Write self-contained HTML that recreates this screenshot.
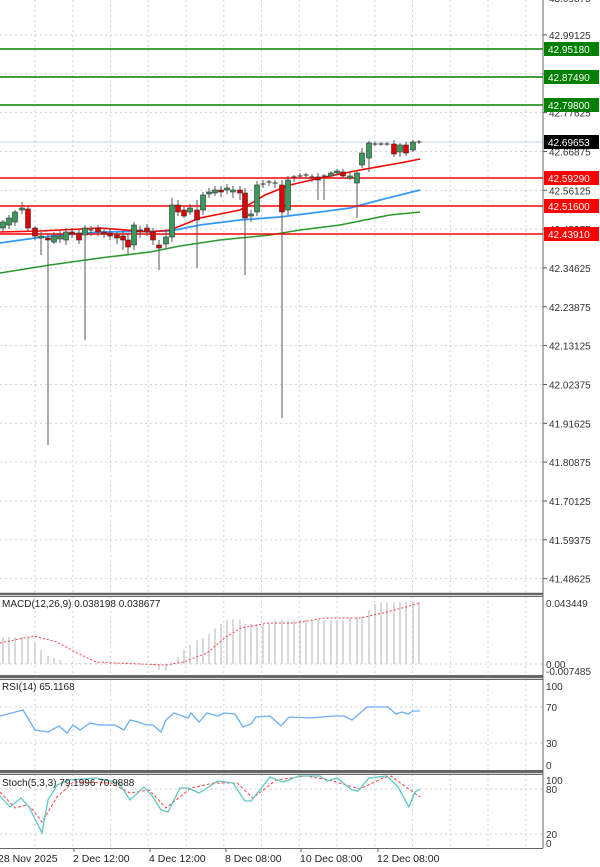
<!DOCTYPE html>
<html><head><meta charset="utf-8"><style>
html,body{margin:0;padding:0;background:#fff;}
svg{display:block;font-family:"Liberation Sans",sans-serif;}
</style></head><body>
<svg id="s" width="600" height="867" xmlns="http://www.w3.org/2000/svg"></svg>
<script>
const s=document.getElementById('s');let h='';
const L=(x1,y1,x2,y2,st,w,d)=>h+=`<line x1="${x1}" y1="${y1}" x2="${x2}" y2="${y2}" stroke="${st}" stroke-width="${w||1}" ${d?`stroke-dasharray="${d}"`:''}/>`;
const T=(x,y,t,c,sz,anc)=>h+=`<text x="${x}" y="${y}" fill="${c||'#000'}" font-size="${sz||10}" ${anc?`text-anchor="${anc}"`:''}>${t}</text>`;
const P=(pts,c,w,d)=>h+=`<polyline fill="none" stroke="${c}" stroke-width="${w||1}" ${d?`stroke-dasharray="${d}"`:''} points="${pts.map(p=>p.join(',')).join(' ')}"/>`;
const G='#c9d3e3';
const panes=[[0,593],[596,675],[679,770],[774,848]];
for(let x=35;x<543;x+=37.75){panes.forEach(p=>L(x.toFixed(1),p[0],x.toFixed(1),p[1],G,1,'2,3'));}
const labs=['42.99125','42.88375','42.77625','42.66875','42.56125','42.45375','42.34625','42.23875','42.13125','42.02375','41.91625','41.80875','41.70125','41.59375','41.48625'];
labs.forEach((l,i)=>{const y=35+i*38.83;L(0,y,543,y,G,1,'2,3');L(543,y,547,y,'#555');T(549,y+4,l,'#333',10);});
T(549,2,'43.09875','#333',10);
const lev=[[49,'42.95180','#008000'],[77,'42.87490','#008000'],[105,'42.79800','#008000'],[178,'42.59290','#ff0000'],[206,'42.51600','#ff0000'],[234,'42.43910','#ff0000']];
L(0,142,543,142,'#c8d4e8',1);
P([[0,273],[50,265],[100,258],[150,252],[180,246],[220,240],[270,235],[300,230],[340,225],[360,221],[390,215],[420,212]],'#2a9a2a',1.6);
P([[0,243],[35,238],[60,235],[100,232],[170,231],[200,225],[240,220],[280,217],[320,212],[350,208],[380,200],[420,190]],'#3399ff',1.8);
P([[0,232],[40,231],[100,228],[150,232],[170,230],[200,218],[240,210],[265,195],[290,185],[320,178],[350,172],[360,170],[400,163],[420,159]],'#ff0000',1.6);
lev.forEach(l=>{L(0,l[0],543,l[0],l[2],1.5);});
const C=[[3,228,222,220,232],[9,225,218,215,229],[15,222,212,210,226],[22,210,208,202,214],[28,209,228,206,232],[35,228,236,226,240],[41,238,236,232,255],[48,238,240,234,445],[54,242,236,232,244],[60,239,236,230,243],[66,240,232,228,245],[72,232,234,228,238],[79,233,240,230,244],[85,235,228,225,340],[91,230,230,226,236],[98,228,232,225,236],[104,232,234,228,238],[110,233,236,228,240],[117,235,238,232,244],[123,236,240,230,250],[128,240,247,233,255],[134,245,225,222,250],[140,230,232,226,238],[147,228,232,224,236],[153,232,240,228,245],[159,245,248,240,270],[166,244,237,230,249],[172,237,205,198,242],[178,205,212,200,216],[184,210,216,207,218],[190,212,208,204,215],[197,210,220,200,268],[203,210,195,192,215],[209,194,192,188,198],[215,193,190,186,196],[221,190,192,186,197],[227,190,188,184,194],[233,192,190,186,198],[240,190,193,186,200],[245,193,218,188,275],[251,216,214,210,222],[257,212,185,181,216],[263,184,184,180,188],[269,183,182,180,186],[275,184,183,180,188],[282,185,212,180,418],[288,210,180,176,215],[294,178,177,175,182],[300,176,176,173,178],[306,176,175,173,178],[312,177,178,174,182],[318,177,180,173,200],[324,177,176,174,200],[331,176,173,171,178],[337,173,171,169,175],[343,172,176,169,178],[350,178,176,173,180],[357,183,173,170,218],[362,165,153,148,168],[369,158,143,141,172],[375,144,144,142,146],[381,144,144,142,146],[387,144,144,142,146],[394,144,154,140,157],[400,152,145,143,157],[406,145,153,142,156],[413,150,142,140,152],[419,142,142,140,144]];
C.forEach(c=>{const[x,o,cl,hi,lo]=c;L(x,hi,x,lo,'#555',1);const t=Math.min(o,cl),b=Math.max(o,cl);
 if(b-t<1.5){L(x-2.5,t,x+2.5,t,'#333',1);}else h+=`<rect x="${x-2.5}" y="${t}" width="5" height="${b-t}" fill="${cl<o?'#3a9a5c':'#e00000'}" stroke="#333" stroke-width="0.6"/>`;});
lev.forEach(l=>{h+=`<rect x="544" y="${l[0]-7}" width="55" height="14" fill="${l[2]}"/>`;T(548,l[0]+4,l[1],'#fff',10);});
h+=`<rect x="544" y="135" width="55" height="14" fill="#000"/>`;T(548,146,'42.69653','#fff',10);
L(0,664,543,664,G,1,'2,3');
const hb=[[0,637],[23,637],[29,638],[35,643],[41,650],[48,656],[54,658],[60,660],[66,663],[140,663],[155,666],[161,672],[168,670],[174,663],[181,653],[188,645],[193,645],[199,638],[206,638],[212,630],[218,627],[225,620],[232,620],[237,617],[245,624],[268,624],[276,620],[344,620],[352,617],[364,617],[369,610],[377,602],[420,602]];
const hy=x=>{for(let i=1;i<hb.length;i++)if(x<=hb[i][0]){const a=hb[i-1],b=hb[i];return a[1]+(b[1]-a[1])*(x-a[0])/(b[0]-a[0]||1);}return 602;};
for(const c of C){const y=hy(c[0]);L(c[0],664,c[0],y.toFixed(1),'#c0c0c0',1.2);}
P([[0,643],[34,636],[57,642],[77,653],[96,662],[115,663],[165,665],[184,662],[207,653],[226,637],[241,628],[268,623],[295,623],[325,618],[360,618],[383,613],[402,608],[420,603]],'#ff4040',1,'2,2');
T(2,607,'MACD(12,26,9) 0.038198 0.038677','#222',10);
T(546,607,'0.043449','#333',10);T(546,668,'0.00','#333',10);T(546,675,'-0.007485','#333',10);
[707,743].forEach(y=>L(0,y,543,y,G,1,'2,3'));
P([[0,716],[23,710],[35,730],[48,732],[59,726],[67,733],[73,725],[80,730],[90,723],[99,725],[115,725],[124,730],[130,720],[138,722],[147,725],[153,725],[161,732],[166,720],[174,713],[188,718],[191,713],[199,722],[207,713],[218,716],[224,713],[235,714],[243,727],[251,724],[256,717],[270,716],[281,726],[289,717],[310,718],[333,716],[344,716],[352,720],[367,707],[388,707],[396,714],[402,712],[408,714],[413,711],[420,711]],'#6aaef5',1.3);
T(2,690,'RSI(14) 65.1168','#222',10);
T(546,690,'100','#333',10);T(546,711,'70','#333',10);T(546,747,'30','#333',10);T(546,769,'0','#333',10);
[789,834].forEach(y=>L(0,y,543,y,G,1,'2,3'));
P([[0,792],[15,808],[27,805],[33,810],[42,822],[57,797],[73,782],[111,783],[130,793],[149,790],[166,808],[191,788],[214,783],[237,783],[253,798],[276,780],[306,776],[329,780],[360,789],[383,778],[391,776],[406,787],[420,797]],'#ff4040',1,'3,2');
P([[0,796],[10,807],[21,798],[29,807],[42,833],[48,800],[57,785],[69,780],[96,778],[119,783],[130,800],[144,787],[153,797],[161,810],[168,812],[180,788],[188,788],[199,793],[218,781],[233,783],[245,801],[251,801],[270,777],[283,782],[299,776],[320,776],[327,781],[337,778],[352,790],[358,791],[369,778],[387,776],[398,787],[409,807],[415,792],[420,789]],'#5cc8c0',1.3);
T(2,786,'Stoch(5,3,3) 79.1996 70.9888','#222',10);
T(546,784,'100','#333',10);T(546,793,'80','#333',10);T(546,838,'20','#333',10);T(546,847,'0','#333',10);
[593,596,675,679,770,774,848].forEach(y=>L(0,y+0.5,543,y+0.5,'#666',1));
[594,677,772].forEach(y=>L(0,y,543,y,'#666',2.5));
L(543,0,543,848,'#666',1);
[['28 Nov 2025',-2],['2 Dec 12:00',73],['4 Dec 12:00',149],['8 Dec 08:00',225],['10 Dec 08:00',300],['12 Dec 08:00',377]].forEach(d=>{T(d[1],862,d[0],'#222',10.5);L(d[1]+1,848,d[1]+1,852,'#666');});
s.innerHTML=h;
</script>
</body></html>
